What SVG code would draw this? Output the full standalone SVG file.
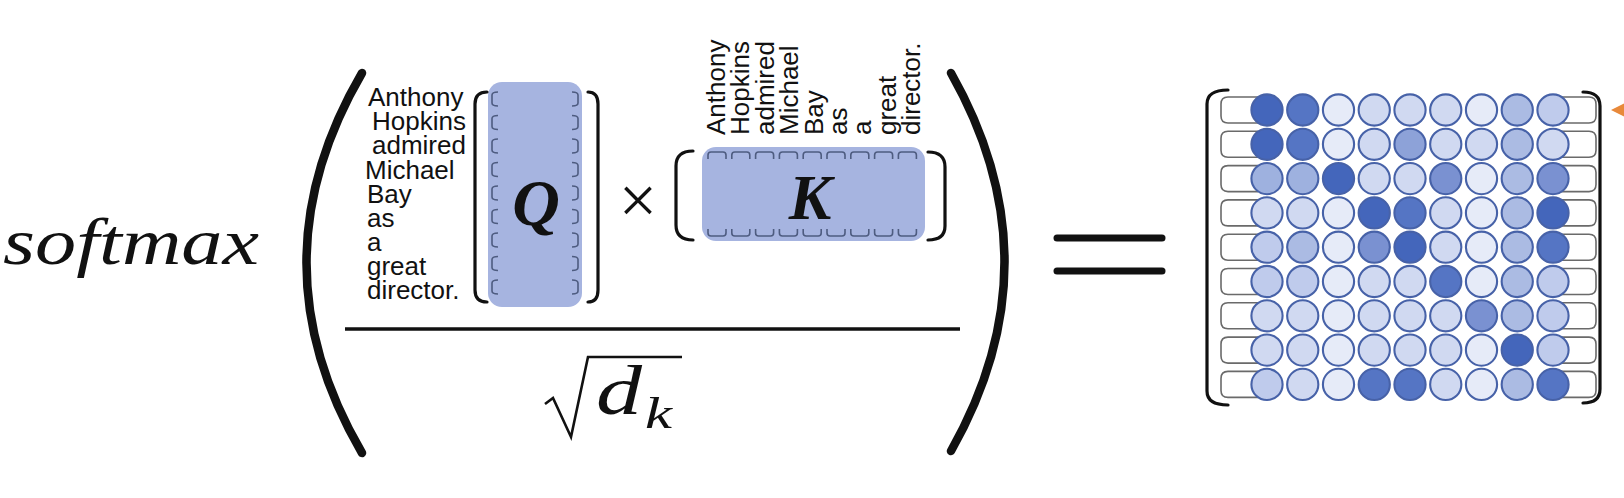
<svg xmlns="http://www.w3.org/2000/svg" width="1624" height="498" viewBox="0 0 1624 498">
<defs>
<style>
.lbl{font-family:"Liberation Sans",Arial,sans-serif;font-size:26px;fill:#111}
.br{fill:none;stroke:#111;stroke-width:3.2;stroke-linecap:round}
.paren{fill:none;stroke:#111;stroke-width:8.5;stroke-linecap:round}
.sb{fill:none;stroke:#4E5C80;stroke-width:1.6}
.rb{fill:none;stroke:#6A6A6A;stroke-width:1.6}
.blue{fill:#A6B4E0}
.c{stroke:#4762A8;stroke-width:2.1}
.L5{fill:#4466BB}.L45{fill:#5575C4}.L35{fill:#7A91D1}.L3{fill:#8DA2D8}.L25{fill:#9EB1DF}.L2{fill:#ABBBE3}.L15{fill:#BFCBEC}.L1{fill:#D0D9F1}.L0{fill:#E6EBF8}
.math{font-family:"Liberation Serif","Times New Roman",serif;font-style:italic;fill:#111}
</style>
</defs>
<rect width="1624" height="498" fill="#ffffff"/>

<g id="softmax">
<text class="math" x="3" y="264" font-size="65" textLength="256" lengthAdjust="spacingAndGlyphs">softmax</text>
</g>

<g id="left-paren">
<path class="paren" d="M362,73 Q251,263 362,453"/>
</g>

<g id="q-labels">
<text class="lbl" x="368" y="106">Anthony</text>
<text class="lbl" x="372" y="130">Hopkins</text>
<text class="lbl" x="372" y="154">admired</text>
<text class="lbl" x="365" y="178.5">Michael</text>
<text class="lbl" x="367" y="202.5">Bay</text>
<text class="lbl" x="367" y="227">as</text>
<text class="lbl" x="367" y="251">a</text>
<text class="lbl" x="367" y="275">great</text>
<text class="lbl" x="367" y="299">director.</text>
</g>

<g id="q-matrix">
<rect class="blue" x="488" y="82" width="94" height="225" rx="14"/>
<path class="br" d="M487,92 Q475,92 475,104 L475,290 Q475,302 487,302"/>
<path class="br" d="M588,92 Q598,92 598,104 L598,290 Q598,302 588,302"/>
<g class="sb">
<path d="M498,92 Q492,92 492,95 L492,103 Q492,106 498,106 M572,92 Q578,92 578,95 L578,103 Q578,106 572,106"/>
<path d="M498,115.5 Q492,115.5 492,118.5 L492,126.5 Q492,129.5 498,129.5 M572,115.5 Q578,115.5 578,118.5 L578,126.5 Q578,129.5 572,129.5"/>
<path d="M498,139 Q492,139 492,142 L492,150 Q492,153 498,153 M572,139 Q578,139 578,142 L578,150 Q578,153 572,153"/>
<path d="M498,162.5 Q492,162.5 492,165.5 L492,173.5 Q492,176.5 498,176.5 M572,162.5 Q578,162.5 578,165.5 L578,173.5 Q578,176.5 572,176.5"/>
<path d="M498,186 Q492,186 492,189 L492,197 Q492,200 498,200 M572,186 Q578,186 578,189 L578,197 Q578,200 572,200"/>
<path d="M498,209.5 Q492,209.5 492,212.5 L492,220.5 Q492,223.5 498,223.5 M572,209.5 Q578,209.5 578,212.5 L578,220.5 Q578,223.5 572,223.5"/>
<path d="M498,233 Q492,233 492,236 L492,244 Q492,247 498,247 M572,233 Q578,233 578,236 L578,244 Q578,247 572,247"/>
<path d="M498,256.5 Q492,256.5 492,259.5 L492,267.5 Q492,270.5 498,270.5 M572,256.5 Q578,256.5 578,259.5 L578,267.5 Q578,270.5 572,270.5"/>
<path d="M498,280 Q492,280 492,283 L492,291 Q492,294 498,294 M572,280 Q578,280 578,283 L578,291 Q578,294 572,294"/>
</g>
<text class="math" x="536" y="225" font-size="66" font-weight="bold" text-anchor="middle">Q</text>
</g>

<g id="times">
<text x="638" y="223" font-family="Liberation Serif,Times New Roman,serif" font-size="68" text-anchor="middle" fill="#111">×</text>
</g>

<g id="k-labels">
<text class="lbl" transform="translate(725,135) rotate(-90)">Anthony</text>
<text class="lbl" transform="translate(749.4,135) rotate(-90)">Hopkins</text>
<text class="lbl" transform="translate(773.8,135) rotate(-90)">admired</text>
<text class="lbl" transform="translate(798.2,135) rotate(-90)">Michael</text>
<text class="lbl" transform="translate(822.6,135) rotate(-90)">Bay</text>
<text class="lbl" transform="translate(847,135) rotate(-90)">as</text>
<text class="lbl" transform="translate(871.4,135) rotate(-90)">a</text>
<text class="lbl" transform="translate(895.8,135) rotate(-90)">great</text>
<text class="lbl" transform="translate(920.2,135) rotate(-90)">director.</text>
</g>

<g id="k-matrix">
<rect class="blue" x="702" y="147" width="223" height="94" rx="14"/>
<path class="br" d="M693,151 Q676,151 676,166 L676,225 Q676,240 693,240"/>
<path class="br" d="M928,152 Q945,152 945,167 L945,226 Q945,240 928,240"/>
<g class="sb">
<path d="M708,159 L708,155 Q708,152 711,152 L723,152 Q726,152 726,155 L726,159 M708,229 L708,233 Q708,236 711,236 L723,236 Q726,236 726,233 L726,229"/>
<path d="M731.8,159 L731.8,155 Q731.8,152 734.8,152 L746.8,152 Q749.8,152 749.8,155 L749.8,159 M731.8,229 L731.8,233 Q731.8,236 734.8,236 L746.8,236 Q749.8,236 749.8,233 L749.8,229"/>
<path d="M755.6,159 L755.6,155 Q755.6,152 758.6,152 L770.6,152 Q773.6,152 773.6,155 L773.6,159 M755.6,229 L755.6,233 Q755.6,236 758.6,236 L770.6,236 Q773.6,236 773.6,233 L773.6,229"/>
<path d="M779.4,159 L779.4,155 Q779.4,152 782.4,152 L794.4,152 Q797.4,152 797.4,155 L797.4,159 M779.4,229 L779.4,233 Q779.4,236 782.4,236 L794.4,236 Q797.4,236 797.4,233 L797.4,229"/>
<path d="M803.2,159 L803.2,155 Q803.2,152 806.2,152 L818.2,152 Q821.2,152 821.2,155 L821.2,159 M803.2,229 L803.2,233 Q803.2,236 806.2,236 L818.2,236 Q821.2,236 821.2,233 L821.2,229"/>
<path d="M827,159 L827,155 Q827,152 830,152 L842,152 Q845,152 845,155 L845,159 M827,229 L827,233 Q827,236 830,236 L842,236 Q845,236 845,233 L845,229"/>
<path d="M850.8,159 L850.8,155 Q850.8,152 853.8,152 L865.8,152 Q868.8,152 868.8,155 L868.8,159 M850.8,229 L850.8,233 Q850.8,236 853.8,236 L865.8,236 Q868.8,236 868.8,233 L868.8,229"/>
<path d="M874.6,159 L874.6,155 Q874.6,152 877.6,152 L889.6,152 Q892.6,152 892.6,155 L892.6,159 M874.6,229 L874.6,233 Q874.6,236 877.6,236 L889.6,236 Q892.6,236 892.6,233 L892.6,229"/>
<path d="M898.4,159 L898.4,155 Q898.4,152 901.4,152 L913.4,152 Q916.4,152 916.4,155 L916.4,159 M898.4,229 L898.4,233 Q898.4,236 901.4,236 L913.4,236 Q916.4,236 916.4,233 L916.4,229"/>
</g>
<text class="math" x="810" y="219" font-size="64" font-weight="bold" text-anchor="middle">K</text>
</g>

<g id="fraction">
<line x1="345" y1="329" x2="960" y2="329" stroke="#111" stroke-width="3.5"/>
<path d="M545,404 L553,398 L571,437 L588,357 L682,357" fill="none" stroke="#111" stroke-width="2.6" stroke-linejoin="miter"/>
<text class="math" x="596" y="414" font-size="70" textLength="46" lengthAdjust="spacingAndGlyphs">d</text>
<text class="math" x="645" y="428" font-size="44" textLength="27" lengthAdjust="spacingAndGlyphs">k</text>
</g>

<g id="right-paren">
<path class="paren" d="M951,73 Q1058,262 951,451"/>
</g>

<g id="equals">
<line x1="1057" y1="238" x2="1162" y2="238" stroke="#111" stroke-width="7" stroke-linecap="round"/>
<line x1="1057" y1="271" x2="1162" y2="271" stroke="#111" stroke-width="7" stroke-linecap="round"/>
</g>

<g id="attention-matrix">
<path class="br" d="M1228,90 Q1207,90 1207,104 L1207,391 Q1207,405 1228,405" stroke-width="3.6"/>
<path class="br" d="M1583,92 Q1600,92 1600,106 L1600,389 Q1600,403 1583,403" stroke-width="3.6"/>
<g class="rb">
<path d="M1258,97 L1228,97 Q1221,97 1221,104 L1221,116 Q1221,123 1228,123 L1258,123 M1555,97 L1589,97 Q1596,97 1596,104 L1596,116 Q1596,123 1589,123 L1555,123"/>
<path d="M1258,131.3 L1228,131.3 Q1221,131.3 1221,138.3 L1221,150.3 Q1221,157.3 1228,157.3 L1258,157.3 M1555,131.3 L1589,131.3 Q1596,131.3 1596,138.3 L1596,150.3 Q1596,157.3 1589,157.3 L1555,157.3"/>
<path d="M1258,165.6 L1228,165.6 Q1221,165.6 1221,172.6 L1221,184.6 Q1221,191.6 1228,191.6 L1258,191.6 M1555,165.6 L1589,165.6 Q1596,165.6 1596,172.6 L1596,184.6 Q1596,191.6 1589,191.6 L1555,191.6"/>
<path d="M1258,199.9 L1228,199.9 Q1221,199.9 1221,206.9 L1221,218.9 Q1221,225.9 1228,225.9 L1258,225.9 M1555,199.9 L1589,199.9 Q1596,199.9 1596,206.9 L1596,218.9 Q1596,225.9 1589,225.9 L1555,225.9"/>
<path d="M1258,234.2 L1228,234.2 Q1221,234.2 1221,241.2 L1221,253.2 Q1221,260.2 1228,260.2 L1258,260.2 M1555,234.2 L1589,234.2 Q1596,234.2 1596,241.2 L1596,253.2 Q1596,260.2 1589,260.2 L1555,260.2"/>
<path d="M1258,268.5 L1228,268.5 Q1221,268.5 1221,275.5 L1221,287.5 Q1221,294.5 1228,294.5 L1258,294.5 M1555,268.5 L1589,268.5 Q1596,268.5 1596,275.5 L1596,287.5 Q1596,294.5 1589,294.5 L1555,294.5"/>
<path d="M1258,302.8 L1228,302.8 Q1221,302.8 1221,309.8 L1221,321.8 Q1221,328.8 1228,328.8 L1258,328.8 M1555,302.8 L1589,302.8 Q1596,302.8 1596,309.8 L1596,321.8 Q1596,328.8 1589,328.8 L1555,328.8"/>
<path d="M1258,337.1 L1228,337.1 Q1221,337.1 1221,344.1 L1221,356.1 Q1221,363.1 1228,363.1 L1258,363.1 M1555,337.1 L1589,337.1 Q1596,337.1 1596,344.1 L1596,356.1 Q1596,363.1 1589,363.1 L1555,363.1"/>
<path d="M1258,371.4 L1228,371.4 Q1221,371.4 1221,378.4 L1221,390.4 Q1221,397.4 1228,397.4 L1258,397.4 M1555,371.4 L1589,371.4 Q1596,371.4 1596,378.4 L1596,390.4 Q1596,397.4 1589,397.4 L1555,397.4"/>
</g>
<g class="c">
<circle class="L5" cx="1267" cy="110" r="15.6"/><circle class="L45" cx="1302.75" cy="110" r="15.6"/><circle class="L0" cx="1338.5" cy="110" r="15.6"/><circle class="L1" cx="1374.25" cy="110" r="15.6"/><circle class="L1" cx="1410" cy="110" r="15.6"/><circle class="L1" cx="1445.75" cy="110" r="15.6"/><circle class="L0" cx="1481.5" cy="110" r="15.6"/><circle class="L2" cx="1517.25" cy="110" r="15.6"/><circle class="L15" cx="1553" cy="110" r="15.6"/>
<circle class="L5" cx="1267" cy="144.3" r="15.6"/><circle class="L45" cx="1302.75" cy="144.3" r="15.6"/><circle class="L0" cx="1338.5" cy="144.3" r="15.6"/><circle class="L1" cx="1374.25" cy="144.3" r="15.6"/><circle class="L3" cx="1410" cy="144.3" r="15.6"/><circle class="L1" cx="1445.75" cy="144.3" r="15.6"/><circle class="L1" cx="1481.5" cy="144.3" r="15.6"/><circle class="L2" cx="1517.25" cy="144.3" r="15.6"/><circle class="L1" cx="1553" cy="144.3" r="15.6"/>
<circle class="L25" cx="1267" cy="178.6" r="15.6"/><circle class="L25" cx="1302.75" cy="178.6" r="15.6"/><circle class="L5" cx="1338.5" cy="178.6" r="15.6"/><circle class="L1" cx="1374.25" cy="178.6" r="15.6"/><circle class="L1" cx="1410" cy="178.6" r="15.6"/><circle class="L35" cx="1445.75" cy="178.6" r="15.6"/><circle class="L0" cx="1481.5" cy="178.6" r="15.6"/><circle class="L2" cx="1517.25" cy="178.6" r="15.6"/><circle class="L35" cx="1553" cy="178.6" r="15.6"/>
<circle class="L1" cx="1267" cy="212.9" r="15.6"/><circle class="L1" cx="1302.75" cy="212.9" r="15.6"/><circle class="L0" cx="1338.5" cy="212.9" r="15.6"/><circle class="L5" cx="1374.25" cy="212.9" r="15.6"/><circle class="L45" cx="1410" cy="212.9" r="15.6"/><circle class="L1" cx="1445.75" cy="212.9" r="15.6"/><circle class="L0" cx="1481.5" cy="212.9" r="15.6"/><circle class="L2" cx="1517.25" cy="212.9" r="15.6"/><circle class="L5" cx="1553" cy="212.9" r="15.6"/>
<circle class="L15" cx="1267" cy="247.2" r="15.6"/><circle class="L2" cx="1302.75" cy="247.2" r="15.6"/><circle class="L0" cx="1338.5" cy="247.2" r="15.6"/><circle class="L35" cx="1374.25" cy="247.2" r="15.6"/><circle class="L5" cx="1410" cy="247.2" r="15.6"/><circle class="L1" cx="1445.75" cy="247.2" r="15.6"/><circle class="L0" cx="1481.5" cy="247.2" r="15.6"/><circle class="L2" cx="1517.25" cy="247.2" r="15.6"/><circle class="L45" cx="1553" cy="247.2" r="15.6"/>
<circle class="L15" cx="1267" cy="281.5" r="15.6"/><circle class="L15" cx="1302.75" cy="281.5" r="15.6"/><circle class="L0" cx="1338.5" cy="281.5" r="15.6"/><circle class="L1" cx="1374.25" cy="281.5" r="15.6"/><circle class="L1" cx="1410" cy="281.5" r="15.6"/><circle class="L45" cx="1445.75" cy="281.5" r="15.6"/><circle class="L0" cx="1481.5" cy="281.5" r="15.6"/><circle class="L2" cx="1517.25" cy="281.5" r="15.6"/><circle class="L15" cx="1553" cy="281.5" r="15.6"/>
<circle class="L1" cx="1267" cy="315.8" r="15.6"/><circle class="L1" cx="1302.75" cy="315.8" r="15.6"/><circle class="L0" cx="1338.5" cy="315.8" r="15.6"/><circle class="L1" cx="1374.25" cy="315.8" r="15.6"/><circle class="L1" cx="1410" cy="315.8" r="15.6"/><circle class="L1" cx="1445.75" cy="315.8" r="15.6"/><circle class="L35" cx="1481.5" cy="315.8" r="15.6"/><circle class="L2" cx="1517.25" cy="315.8" r="15.6"/><circle class="L15" cx="1553" cy="315.8" r="15.6"/>
<circle class="L1" cx="1267" cy="350.1" r="15.6"/><circle class="L1" cx="1302.75" cy="350.1" r="15.6"/><circle class="L0" cx="1338.5" cy="350.1" r="15.6"/><circle class="L1" cx="1374.25" cy="350.1" r="15.6"/><circle class="L1" cx="1410" cy="350.1" r="15.6"/><circle class="L1" cx="1445.75" cy="350.1" r="15.6"/><circle class="L0" cx="1481.5" cy="350.1" r="15.6"/><circle class="L5" cx="1517.25" cy="350.1" r="15.6"/><circle class="L15" cx="1553" cy="350.1" r="15.6"/>
<circle class="L15" cx="1267" cy="384.4" r="15.6"/><circle class="L1" cx="1302.75" cy="384.4" r="15.6"/><circle class="L0" cx="1338.5" cy="384.4" r="15.6"/><circle class="L45" cx="1374.25" cy="384.4" r="15.6"/><circle class="L45" cx="1410" cy="384.4" r="15.6"/><circle class="L1" cx="1445.75" cy="384.4" r="15.6"/><circle class="L0" cx="1481.5" cy="384.4" r="15.6"/><circle class="L2" cx="1517.25" cy="384.4" r="15.6"/><circle class="L45" cx="1553" cy="384.4" r="15.6"/>
</g>
</g>

<g id="connectors">
<polygon points="1611,110 1624,103.5 1624,116.5" fill="#E8893A"/>
</g>
</svg>
